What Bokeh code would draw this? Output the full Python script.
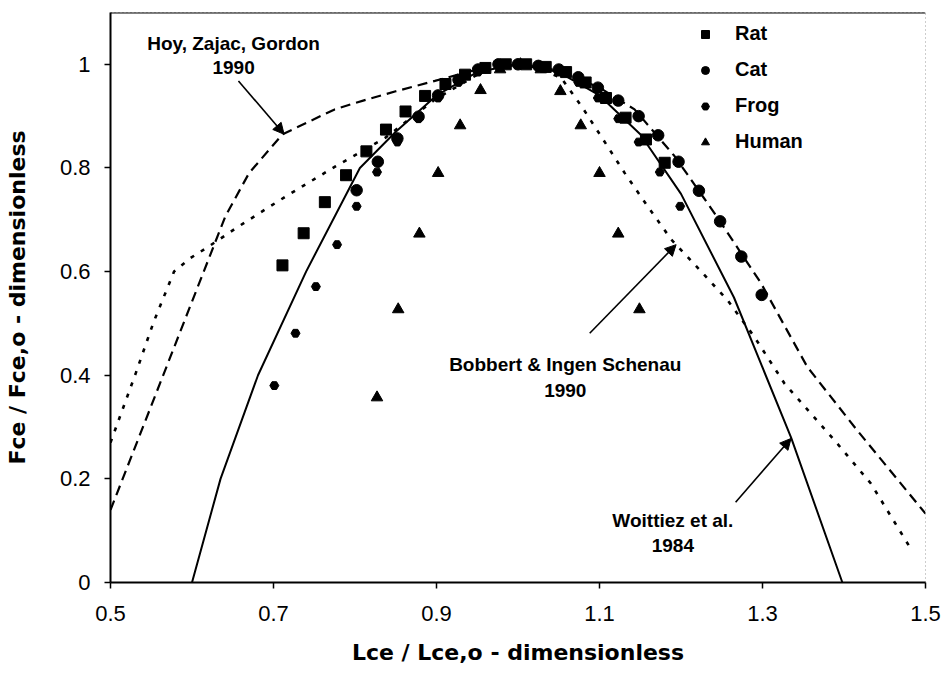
from bokeh.plotting import figure
from bokeh.models import (Range1d, FixedTicker, Label, Arrow, NormalHead, Legend,
                          LegendItem, Span)
from bokeh.embed import file_html
from bokeh.resources import INLINE

# ---------------- data ----------------
rat_x = [0.711, 0.737, 0.763, 0.789, 0.814, 0.838, 0.862, 0.886, 0.911, 0.935,
         0.960, 0.985, 1.010, 1.034, 1.059, 1.083, 1.108, 1.132, 1.157, 1.180]
rat_y = [0.612, 0.674, 0.734, 0.786, 0.832, 0.874, 0.909, 0.939, 0.962, 0.980,
         0.993, 1.000, 1.000, 0.995, 0.985, 0.965, 0.935, 0.897, 0.855, 0.810]

cat_x = [0.802, 0.828, 0.852, 0.878, 0.902, 0.927, 0.951, 0.976, 1.000, 1.025,
         1.050, 1.074, 1.098, 1.123, 1.148, 1.172, 1.197, 1.222, 1.248, 1.274, 1.299]
cat_y = [0.757, 0.812, 0.857, 0.899, 0.940, 0.970, 0.990, 1.000, 1.000, 0.997,
         0.990, 0.975, 0.955, 0.930, 0.900, 0.863, 0.812, 0.756, 0.697, 0.629, 0.555]

frog_x = [0.701, 0.727, 0.752, 0.778, 0.802, 0.827, 0.852, 0.878, 0.902, 0.927,
          0.951, 0.976, 1.000, 1.025, 1.050, 1.074, 1.098, 1.123, 1.148, 1.174, 1.199]
frog_y = [0.380, 0.481, 0.571, 0.652, 0.726, 0.792, 0.850, 0.895, 0.935, 0.965,
          0.985, 0.997, 1.000, 0.995, 0.985, 0.965, 0.935, 0.895, 0.850, 0.792, 0.726]

human_x = [0.827, 0.853, 0.879, 0.902, 0.929, 0.954, 0.978, 1.003, 1.028,
           1.052, 1.077, 1.100, 1.123, 1.149]
human_y = [0.357, 0.527, 0.673, 0.790, 0.882, 0.950, 0.990, 1.000, 0.990,
           0.948, 0.882, 0.790, 0.673, 0.527]

# Hoy, Zajac, Gordon 1990 (dashed)
hoy_x = [0.500, 0.641, 0.670, 0.711, 0.775, 0.810, 0.850, 0.898, 0.950, 1.000,
         1.050, 1.100, 1.143, 1.192, 1.241, 1.298, 1.355, 1.416, 1.500]
hoy_y = [0.140, 0.707, 0.790, 0.865, 0.913, 0.930, 0.948, 0.968, 0.990, 1.000,
         0.988, 0.955, 0.913, 0.823, 0.713, 0.578, 0.416, 0.294, 0.133]

# Bobbert & Ingen Schenau 1990 (dotted)
bob_x = [0.500, 0.531, 0.553, 0.578, 0.598, 0.621, 0.657, 0.715, 0.776, 0.837,
         0.898, 0.950, 0.980, 1.000, 1.020, 1.053, 1.078, 1.102, 1.131, 1.159,
         1.188, 1.216, 1.257, 1.290, 1.327, 1.388, 1.433, 1.482]
bob_y = [0.270, 0.404, 0.503, 0.600, 0.626, 0.649, 0.687, 0.745, 0.803, 0.858,
         0.932, 0.980, 0.995, 1.000, 0.995, 0.974, 0.919, 0.861, 0.790, 0.726,
         0.662, 0.615, 0.545, 0.474, 0.384, 0.275, 0.191, 0.065]

# Woittiez et al. 1984 (solid)
woi_x = [0.600, 0.635, 0.681, 0.740, 0.806, 0.850, 0.900, 0.950, 1.000, 1.050,
         1.100, 1.150, 1.200, 1.265, 1.335, 1.398]
woi_y = [0.000, 0.200, 0.400, 0.600, 0.800, 0.870, 0.940, 0.985, 1.000, 0.985,
         0.940, 0.865, 0.750, 0.550, 0.280, 0.000]

x_ticks = [0.5, 0.7, 0.9, 1.1, 1.3, 1.5]
x_tick_labels = ["0.5", "0.7", "0.9", "1.1", "1.3", "1.5"]
y_ticks = [0.0, 0.2, 0.4, 0.6, 0.8, 1.0]
y_tick_labels = ["0", "0.2", "0.4", "0.6", "0.8", "1"]

x_title = "Lce / Lce,o - dimensionless"
y_title = "Fce / Fce,o - dimensionless"

# annotation texts and anchor points (data units)
notes = [
    ("Hoy, Zajac, Gordon", 0.651, 1.040),
    ("1990", 0.651, 0.994),
    ("Bobbert & Ingen Schenau", 1.058, 0.420),
    ("1990", 1.058, 0.371),
    ("Woittiez et al.", 1.190, 0.120),
    ("1984", 1.190, 0.072),
]
# arrows: x_start, y_start, x_end, y_end
arrows = [
    (0.657, 0.968, 0.713, 0.865),
    (1.088, 0.481, 1.194, 0.652),
    (1.267, 0.155, 1.335, 0.278),
]

FONT = "Liberation Sans"
TITLE_FONT = "DejaVu Sans"

p = figure(width=944, height=692,
           x_range=Range1d(0.5, 1.5), y_range=Range1d(0.0, 1.1),
           output_backend="svg", toolbar_location=None,
           min_border_left=110, min_border_right=19,
           min_border_top=12, min_border_bottom=110)

p.background_fill_color = "white"
p.border_fill_color = "white"
p.xgrid.grid_line_color = None
p.ygrid.grid_line_color = None
p.outline_line_color = "#9a9a9a"
p.outline_line_dash = "1 3"
p.outline_line_width = 1

for ax, ticks, labels, title in ((p.xaxis[0], x_ticks, x_tick_labels, x_title),
                                 (p.yaxis[0], y_ticks, y_tick_labels, y_title)):
    ax.ticker = FixedTicker(ticks=ticks)
    ax.major_label_overrides = {t: l for t, l in zip(ticks, labels)}
    ax.major_label_text_font = FONT
    ax.major_label_text_font_size = "22px"
    ax.major_label_text_color = "black"
    ax.axis_label = title
    ax.axis_label_text_font = TITLE_FONT
    ax.axis_label_text_font_size = "22px"
    ax.axis_label_text_font_style = "bold"
    ax.axis_label_text_color = "black"
    ax.axis_line_color = "black"
    ax.axis_line_width = 2
    ax.major_tick_line_color = "black"
    ax.major_tick_line_width = 1.5
    ax.major_tick_in = 0
    ax.major_tick_out = 6
    ax.minor_tick_line_color = None

p.xaxis.major_label_standoff = 17
p.xaxis.axis_label_standoff = 16
p.yaxis.major_label_standoff = 14
p.yaxis.axis_label_standoff = 27

# top frame edge
p.add_layout(Span(location=p.y_range.end, dimension="width",
                  line_color="black", line_width=2))

# model curves
p.line(hoy_x, hoy_y, line_color="black", line_width=2.2, line_dash="10 6")
p.line(bob_x, bob_y, line_color="black", line_width=2.6, line_dash="4 8")
p.line(woi_x, woi_y, line_color="black", line_width=2)

# data points
r_rat = p.scatter(rat_x, rat_y, marker="square", size=11, color="black")
r_cat = p.scatter(cat_x, cat_y, marker="circle", size=11.5, color="black")
r_frog = p.scatter(frog_x, frog_y, marker="hex", size=9, color="black")
r_human = p.scatter(human_x, human_y, marker="triangle", size=11.5, color="black")

legend = Legend(items=[LegendItem(label="Rat", renderers=[r_rat]),
                       LegendItem(label="Cat", renderers=[r_cat]),
                       LegendItem(label="Frog", renderers=[r_frog]),
                       LegendItem(label="Human", renderers=[r_human])],
                location=(585, 429))
legend.border_line_color = None
legend.background_fill_alpha = 0
legend.padding = 0
legend.margin = 0
legend.spacing = 13
legend.glyph_width = 20
legend.glyph_height = 20
legend.label_height = 20
legend.label_standoff = 20
legend.label_text_font = FONT
legend.label_text_font_size = "20px"
legend.label_text_font_style = "bold"
legend.label_text_color = "black"
p.add_layout(legend)

for txt, x, y in notes:
    p.add_layout(Label(x=x, y=y, text=txt, text_align="center", text_baseline="middle",
                       text_font=FONT, text_font_size="19px", text_font_style="bold",
                       text_color="black"))

for xs, ys, xe, ye in arrows:
    p.add_layout(Arrow(end=NormalHead(size=11, fill_color="black", line_color="black"),
                       x_start=xs, y_start=ys, x_end=xe, y_end=ye,
                       line_color="black", line_width=1.6))

open("out.html", "w").write(file_html(p, INLINE))
